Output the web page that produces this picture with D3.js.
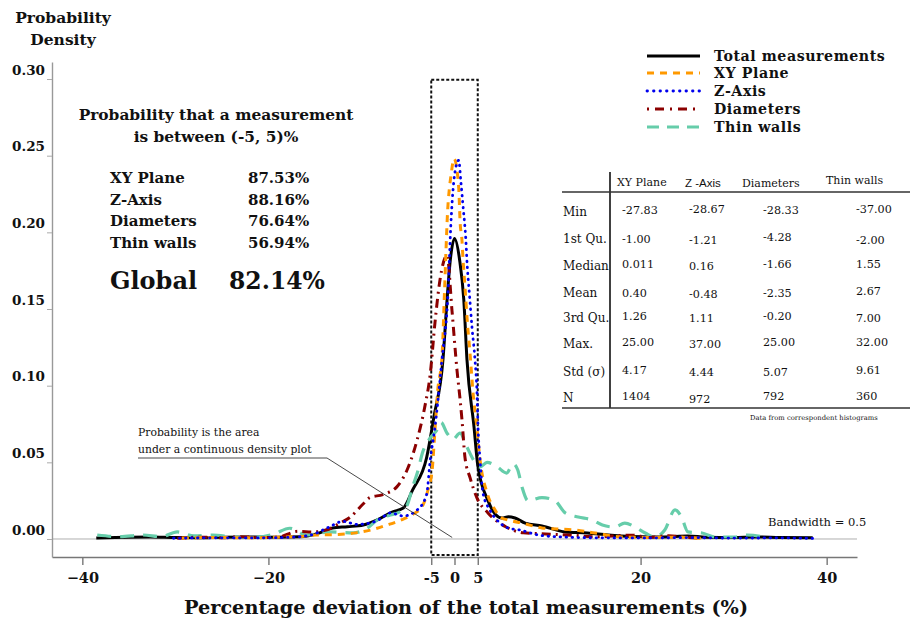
<!DOCTYPE html>
<html><head><meta charset="utf-8">
<script src="https://d3js.org/d3.v7.min.js"></script>
<style>body{margin:0;background:#fff}svg{display:block}</style>
</head><body><svg id="c" width="913" height="623"></svg>
<script>
// ---- data ----
const totalPts = [[-38.5,0.0007],[-35,0.0012],[-32.7,0.0013],[-30,0.0009],[-27.4,0.0008],[-25,0.0012],[-22,0.0013],[-19,0.0012],[-16.6,0.0014],[-14.5,0.004],[-13.1,0.0072],[-11.5,0.008],[-9.8,0.0091],[-8.3,0.0124],[-6.7,0.0176],[-5.5,0.0202],[-4.5,0.032],[-3.0,0.053],[-2.2,0.08],[-1.24,0.117],[-0.8,0.156],[-0.45,0.182],[0,0.196],[0.55,0.182],[1.0,0.156],[1.34,0.117],[2.1,0.073],[2.5,0.048],[3.6,0.025],[4.4,0.016],[5.1,0.0137],[5.8,0.0145],[6.5,0.0137],[7.6,0.0104],[9.4,0.0085],[11.9,0.0046],[14.3,0.0039],[16.5,0.0026],[19,0.0016],[21.5,0.0013],[23.5,0.0015],[25.1,0.002],[27,0.0012],[30,0.001],[32.3,0.0013],[35,0.001],[38.5,0.0008]];
const xyPts = [[-29.3,0.0006],[-26,0.001],[-22,0.0008],[-19,0.0012],[-17,0.0015],[-14.9,0.0026],[-12.5,0.003],[-10.6,0.004],[-8.9,0.006],[-7.3,0.009],[-5.5,0.013],[-4.5,0.016],[-3.4,0.022],[-2.85,0.032],[-2.4,0.045],[-2.1,0.071],[-1.8,0.097],[-1.34,0.119],[-1.07,0.162],[-0.91,0.189],[-0.73,0.215],[-0.56,0.228],[-0.38,0.237],[-0.05,0.248],[0.34,0.237],[0.48,0.226],[0.6,0.207],[0.8,0.195],[0.9,0.184],[1.13,0.164],[1.4,0.14],[1.67,0.121],[2.0,0.095],[2.4,0.073],[2.74,0.052],[3.5,0.030],[4.35,0.019],[4.9,0.0143],[6,0.012],[7.25,0.0104],[9.4,0.0072],[11,0.0065],[12.95,0.0059],[15.1,0.0039],[18,0.0013],[21,0.001],[24,0.0012],[26.5,0.0005]];
const zPts = [[-30.2,0.0005],[-26,0.0008],[-22,0.0007],[-18,0.001],[-15.5,0.0025],[-13.4,0.008],[-12,0.0115],[-10.5,0.0095],[-9,0.0105],[-8,0.013],[-6.9,0.017],[-5.5,0.015],[-4.0,0.019],[-3.0,0.029],[-2.6,0.052],[-2.1,0.073],[-1.8,0.089],[-1.35,0.117],[-0.7,0.160],[-0.4,0.204],[-0.24,0.221],[0.13,0.242],[0.45,0.247],[0.7,0.232],[0.95,0.215],[1.2,0.197],[1.38,0.177],[1.6,0.16],[1.88,0.138],[2.2,0.117],[2.42,0.095],[2.53,0.073],[2.74,0.052],[3.06,0.030],[3.8,0.019],[4.9,0.0104],[5.75,0.0072],[7.0,0.0059],[9.0,0.0026],[11.6,0.0013],[15,0.0008],[20,0.0007],[25,0.0009],[30,0.0006],[35,0.0007],[38.5,0.0004]];
const diamPts = [[-29.8,0.0005],[-27,0.0012],[-25,0.0008],[-23,0.0015],[-21,0.0009],[-19,0.0012],[-16.8,0.005],[-15.2,0.0046],[-13.7,0.006],[-12.3,0.0104],[-11.2,0.0143],[-9.8,0.023],[-9.1,0.027],[-7.7,0.029],[-6.2,0.034],[-5.1,0.045],[-4.0,0.065],[-3.2,0.086],[-2.6,0.108],[-2.1,0.141],[-1.56,0.169],[-0.8,0.185],[-0.27,0.149],[0.27,0.110],[0.6,0.091],[0.8,0.078],[1.13,0.053],[1.67,0.040],[2.4,0.027],[3.6,0.017],[5.5,0.008],[7.4,0.004],[9.8,0.0033],[12.5,0.0025],[15,0.0015],[19,0.0025],[21,0.001],[23,0.0022],[25,0.001],[26.5,0.0005]];
const thinPts = [[-38.4,0.0026],[-36,0.0015],[-33.5,0.0026],[-31.5,0.0015],[-29.8,0.0046],[-28,0.002],[-26,0.0026],[-23.5,0.0012],[-21.2,0.0013],[-19.5,0.003],[-17.7,0.007],[-15.9,0.0026],[-13.4,0.0046],[-10.9,0.004],[-9.4,0.007],[-8.3,0.0124],[-6.9,0.0157],[-5.9,0.0176],[-5.1,0.022],[-4.5,0.034],[-4.0,0.043],[-3.4,0.057],[-2.6,0.066],[-1.9,0.071],[-1.45,0.076],[-0.8,0.069],[-0.16,0.065],[0.59,0.069],[1.34,0.060],[2.0,0.052],[2.74,0.047],[3.5,0.050],[4.6,0.047],[5.6,0.043],[6.3,0.049],[6.8,0.045],[7.25,0.034],[7.9,0.025],[9.4,0.027],[10.8,0.025],[11.9,0.017],[13.3,0.0143],[14.8,0.0124],[15.9,0.0091],[17.2,0.0078],[18.3,0.0104],[19.4,0.0078],[20.5,0.0039],[21.5,0.0013],[22.6,0.0059],[23.7,0.019],[24.4,0.0143],[25.1,0.0046],[26.6,0.0039],[28.0,0.0013],[30.1,0.0013],[31.5,0.0026],[33.5,0.0008]];

const seriesNames = ["Total measurements","XY Plane","Z-Axis","Diameters","Thin walls"];
const yTickValues = [0,0.05,0.10,0.15,0.20,0.25,0.30];
const xTickValues = [-40,-20,-2.5,0,2.5,20,40];
const xTickLabels = ["\u221240","\u221220","-5","0","5","20","40"];
const boxRange = [-2.5,2.5];

const probLabels = ["XY Plane","Z-Axis","Diameters","Thin walls"];
const probValues = ["87.53%","88.16%","76.64%","56.94%"];
const globalValue = "82.14%";

const tableCols = ["XY Plane","Z -Axis","Diameters","Thin walls"];
const tableRows = ["Min","1st Qu.","Median","Mean","3rd Qu.","Max.","Std  (\u03c3)","N"];
const colXY = ["-27.83","-1.00","0.011","0.40","1.26","25.00","4.17","1404"];
const colZ = ["-28.67","-1.21","0.16","-0.48","1.11","37.00","4.44","972"];
const colDiam = ["-28.33","-4.28","-1.66","-2.35","-0.20","25.00","5.07","792"];
const colThin = ["-37.00","-2.00","1.55","2.67","7.00","32.00","9.61","360"];

// ---- drawing ----
const svg = d3.select("#c");
svg.append("rect").attr("width",913).attr("height",623).attr("fill","#fff");
const serif = "'DejaVu Serif', Georgia, serif";

const x = d3.scaleLinear().domain([-43.26,43.26]).range([52,857]);
const y = d3.scaleLinear().domain([-0.01174,0.3111]).range([557,62]);

// zero line
svg.append("line").attr("x1",x(-43.26)).attr("x2",x(43.26)).attr("y1",y(0)).attr("y2",y(0))
  .attr("stroke","#b0b0b0").attr("stroke-width",1);

// axes
const gx = svg.append("g").attr("transform",`translate(0,${y(-0.01174)})`)
  .call(d3.axisBottom(x).tickValues(xTickValues).tickFormat((d,i)=>xTickLabels[i]).tickSize(8).tickSizeOuter(0));
gx.select(".domain").attr("stroke","#777").attr("stroke-width",1.6);
gx.selectAll(".tick line").attr("stroke","#777").attr("stroke-width",1.4);
gx.selectAll(".tick text").attr("font-family",serif).attr("font-weight","bold").attr("font-size",14.5).attr("fill","#111").attr("dy","1.05em");

const gy = svg.append("g").attr("transform",`translate(${x(-43.26)},0)`)
  .call(d3.axisLeft(y).tickValues(yTickValues).tickFormat(d3.format(".2f")).tickSize(5).tickSizeOuter(0));
gy.select(".domain").attr("stroke","#999").attr("stroke-width",1.4);
gy.selectAll(".tick line").attr("stroke","#aaa");
gy.selectAll(".tick text").attr("font-family",serif).attr("font-weight","bold").attr("font-size",13.5).attr("fill","#111")
  .attr("x",-7).attr("dy","-0.35em");

// dotted box
svg.append("rect").attr("x",x(boxRange[0])).attr("y",y(0.2995))
  .attr("width",x(boxRange[1])-x(boxRange[0])).attr("height",y(-0.0105)-y(0.2995))
  .attr("fill","none").attr("stroke","#111").attr("stroke-width",2).attr("stroke-dasharray","3,2");

// series
const line = d3.line().x(d=>x(d[0])).y(d=>y(d[1])).curve(d3.curveMonotoneX);
const styles = [
  {pts: totalPts, color:"#000", w:3, dash:null},
  {pts: thinPts, color:"#66CDAA", w:3.2, dash:"14,9"},
  {pts: diamPts, color:"#8B0000", w:3, dash:"9,5,2,5"},
  {pts: xyPts, color:"#FF9900", w:3, dash:"7,6"},
  {pts: zPts, color:"#0000EE", w:2.8, dash:"0.5,5.5", cap:"round"},
];
styles.forEach(s=>{
  svg.append("path").datum(s.pts).attr("d",line).attr("fill","none")
    .attr("stroke",s.color).attr("stroke-width",s.w)
    .attr("stroke-dasharray",s.dash).attr("stroke-linecap",s.cap||"butt").attr("stroke-linejoin","round");
});

// legend
const legStyles = [
  {color:"#000", w:3, dash:null},
  {color:"#FF9900", w:3, dash:"7,6"},
  {color:"#0000EE", w:2.8, dash:"0.5,6", cap:"round"},
  {color:"#8B0000", w:3, dash:"2,6,9,6"},
  {color:"#66CDAA", w:3.2, dash:"12,8"},
];
const legY = [56,73,91,109,127];
seriesNames.forEach((n,i)=>{
  const s = legStyles[i];
  svg.append("line").attr("x1",647).attr("x2",700).attr("y1",legY[i]).attr("y2",legY[i])
    .attr("stroke",s.color).attr("stroke-width",s.w).attr("stroke-dasharray",s.dash).attr("stroke-linecap",s.cap||"butt");
  svg.append("text").attr("x",714).attr("y",legY[i]+5).text(n)
    .attr("font-family",serif).attr("font-weight","bold").attr("font-size",14.2).attr("letter-spacing",0.55).attr("fill","#111");
});

// y title
svg.append("text").attr("x",63).attr("y",23).attr("text-anchor","middle").text("Probability")
  .attr("font-family",serif).attr("font-weight","bold").attr("font-size",15.5).attr("fill","#111");
svg.append("text").attr("x",63).attr("y",45).attr("text-anchor","middle").text("Density")
  .attr("font-family",serif).attr("font-weight","bold").attr("font-size",15.5).attr("fill","#111");
// x title
svg.append("text").attr("x",466).attr("y",614).attr("text-anchor","middle").text("Percentage deviation of the total measurements (%)")
  .attr("font-family",serif).attr("font-weight","bold").attr("font-size",19.3).attr("fill","#111");

// probability block
const pb = svg.append("g").attr("font-family",serif).attr("font-weight","bold").attr("fill","#111");
pb.append("text").attr("x",216).attr("y",120).attr("text-anchor","middle").attr("font-size",15.4).text("Probability that a measurement");
pb.append("text").attr("x",216).attr("y",142).attr("text-anchor","middle").attr("font-size",15.4).text("is between (-5, 5)%");
const rowY = [183,205,226,248];
probLabels.forEach((l,i)=>{
  pb.append("text").attr("x",110).attr("y",rowY[i]).attr("font-size",15).text(l);
  pb.append("text").attr("x",248).attr("y",rowY[i]).attr("font-size",15).text(probValues[i]);
});
pb.append("text").attr("x",110).attr("y",289).attr("font-size",24).text("Global");
pb.append("text").attr("x",229).attr("y",289).attr("font-size",23.5).text(globalValue);

// stats table
const tb = svg.append("g").attr("font-family",serif).attr("fill","#111");
tb.append("line").attr("x1",610).attr("x2",610).attr("y1",172).attr("y2",408).attr("stroke","#111").attr("stroke-width",1.6);
tb.append("line").attr("x1",562).attr("x2",910).attr("y1",192).attr("y2",192).attr("stroke","#333").attr("stroke-width",1.3);
tb.append("line").attr("x1",562).attr("x2",910).attr("y1",408).attr("y2",408).attr("stroke","#333").attr("stroke-width",1.3);
const headX = [617,685,742,826];
const headY = [186,187,187,184];
tableCols.forEach((c,i)=>{
  tb.append("text").attr("x",headX[i]).attr("y",headY[i]).attr("font-size",i===1?11.5:11)
    .attr("font-family", i===1 ? "'Liberation Sans', Arial, sans-serif" : serif).text(c);
});
const rowYs = [216,243,270,297,322,348,376,402];
tableRows.forEach((r,i)=>{
  tb.append("text").attr("x",563).attr("y",rowYs[i]).attr("font-size",12).text(r);
});
const colsData = [colXY,colZ,colDiam,colThin];
const colX = [622,689,763,856];
const colDy = [[-2,-3,-2,-3],[0,1,-2,1],[-2,0,-2,-2],[0,1,0,-2],[-2,0,-2,0],[-2,0,-2,-2],[-2,0,0,-2],[-2,1,-2,-2]];
colsData.forEach((col,ci)=>{
  col.forEach((v,ri)=>{
    tb.append("text").attr("x",colX[ci]).attr("y",rowYs[ri]+colDy[ri][ci]).attr("font-size",11.2).text(v);
  });
});
tb.append("text").attr("x",750).attr("y",420).attr("font-size",6.8).text("Data from correspondent histograms");

// bandwidth
svg.append("text").attr("x",768).attr("y",526).attr("font-family",serif).attr("font-size",11.5).attr("fill","#111").text("Bandwidth = 0.5");

// annotation
svg.append("text").attr("x",138).attr("y",436).attr("font-family",serif).attr("font-size",10.8).attr("fill","#111").text("Probability is the area");
svg.append("text").attr("x",138).attr("y",453).attr("font-family",serif).attr("font-size",10.8).attr("fill","#111").text("under a continuous density plot");
svg.append("polyline").attr("points",`138,458 327,458 ${x(-0.25)},${y(0.001)}`)
  .attr("fill","none").attr("stroke","#333").attr("stroke-width",0.9);
</script></body></html>
